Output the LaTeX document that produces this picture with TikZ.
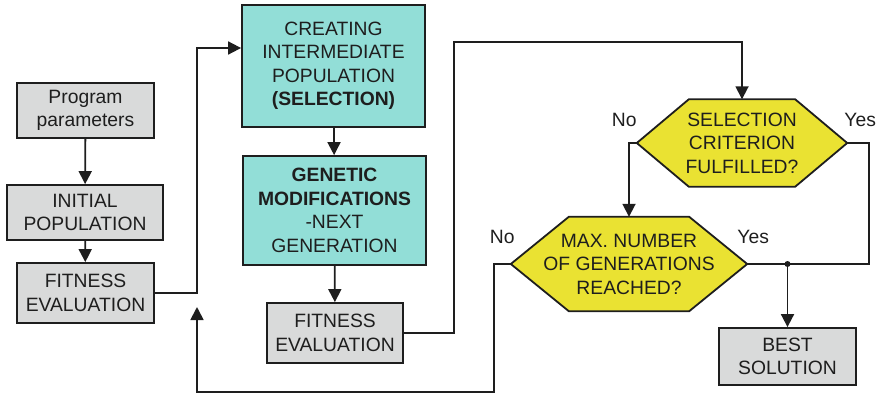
\documentclass[tikz,border=0pt]{standalone}
\usepackage{fontspec}
\setmainfont{Liberation Sans}
\usetikzlibrary{arrows.meta,positioning,backgrounds}

\definecolor{boxgray}{RGB}{217,218,218}
\definecolor{selcyan}{RGB}{146,222,215}
\definecolor{decyellow}{RGB}{234,226,50}
\definecolor{ink}{RGB}{30,30,30}

\begin{document}
\begin{tikzpicture}[
  x=1pt, y=-1pt,
  font=\fontsize{19.3}{23.5}\selectfont,
  block/.style={draw=ink, line width=1.8pt, fill=boxgray, text=ink, align=center, inner sep=0pt},
  stage/.style={block, fill=selcyan},
  decision/.style={text=ink, align=center, inner sep=0pt},
  hexagon/.style={draw=ink, line width=1.8pt, fill=decyellow, line join=miter},
  answer/.style={text=ink, inner sep=0pt},
  line/.style={-{Triangle[length=13pt,width=13pt]}, line width=1.8pt, draw=ink},
  wire/.style={line width=1.8pt, draw=ink}
]
\useasboundingbox (0,0) rectangle (877,396);

% Nodes
\node[block, minimum width=137, minimum height=55] (params) at (85.5,110.5) {Program\\parameters};
\node[block, minimum width=156, minimum height=55] (init) at (85,212.5) {INITIAL\\POPULATION};
\node[block, minimum width=137, minimum height=60] (fit) at (85.5,293) {FITNESS\\EVALUATION};
\node[stage, minimum width=183, minimum height=122] (create) at (333.5,66) {CREATING\\INTERMEDIATE\\POPULATION\\\textbf{(SELECTION)}};
\node[stage, minimum width=183, minimum height=109] (modify) at (334.5,210.5) {\textbf{GENETIC}\\\textbf{MODIFICATIONS}\\-NEXT\\GENERATION};
\node[block, minimum width=136, minimum height=60] (fitnext) at (335,333) {FITNESS\\EVALUATION};
\node[decision, minimum width=210, minimum height=87] (crit) at (742,143) {SELECTION\\CRITERION\\FULFILLED?};
\node[decision, minimum width=236, minimum height=94] (maxgen) at (629,264) {MAX. NUMBER\\OF GENERATIONS\\REACHED?};
\node[block, minimum width=137, minimum height=57] (best) at (787.5,356.5) {BEST\\SOLUTION};

% Hexagons behind the decision texts
\begin{scope}[on background layer]
  \foreach \n/\d in {crit/52pt, maxgen/58pt}
    \filldraw[hexagon] (\n.west) -- ([xshift=\d]\n.north west) -- ([xshift=-\d]\n.north east)
      -- (\n.east) -- ([xshift=-\d]\n.south east) -- ([xshift=\d]\n.south west) -- cycle;
\end{scope}

% Branch labels
\node[answer, anchor=base east] (critno) at ([yshift=17pt]crit.west) {No};
\node[answer, anchor=base west] (crityes) at ([xshift=-3pt,yshift=17pt]crit.east) {Yes};
\node[answer, anchor=base east] (maxno) at ([xshift=4pt,yshift=21pt]maxgen.west) {No};
\node[answer, anchor=base west] (maxyes) at ([xshift=-10pt,yshift=21pt]maxgen.east) {Yes};

% Bend points
\coordinate (loop) at (197,48);
\coordinate (reentry) at (197,307);
\coordinate (top) at (454,42);
\coordinate (yesright) at (869,0);
\coordinate (back) at (494,392);
\coordinate (join) at (best.north |- maxgen.east);

% Connections
\draw[line] (params) -- (init);
\draw[line] (init) -- (fit);
\draw[line] (fit.east) -| (loop) -- (loop -| create.west);
\draw[line] (create) -- (modify);
\draw[line] (modify) -- (fitnext);
\draw[line] (fitnext.east) -| (top) -| (crit.north);
\draw[line] (crit.west) -| (maxgen.north);
\draw[wire] (crit.east) -| (maxgen.east -| yesright) -- (maxgen.east);
\fill[ink] (join) circle (3pt);
\draw[line] (join) -- (best);
\draw[line] (maxgen.west) -| (back) -| (reentry);

\end{tikzpicture}
\end{document}
